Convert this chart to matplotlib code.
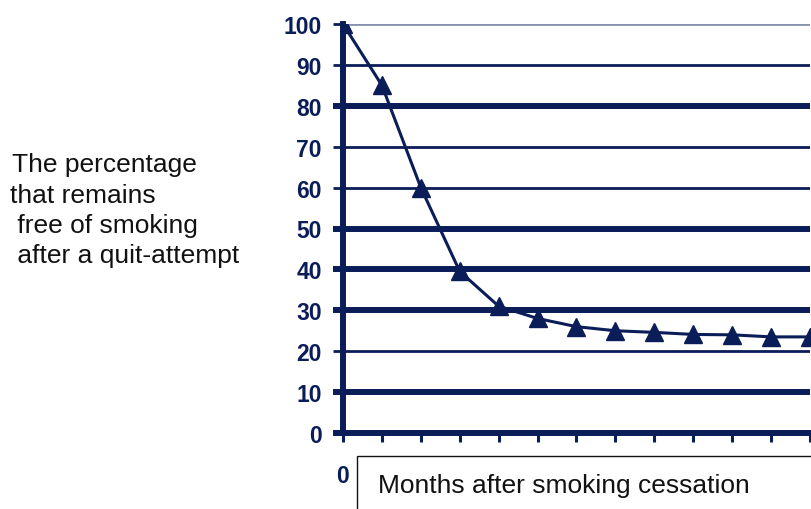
import matplotlib
matplotlib.use("Agg")
import matplotlib.pyplot as plt
from matplotlib.patches import Rectangle

# Share of quitters still abstinent, by month after cessation
months = [0, 1, 2, 3, 4, 5, 6, 7, 8, 9, 10, 11, 12]
abstinent_pct = [100, 85, 60, 39.5, 31, 28, 26, 25, 24.6, 24.1, 24, 23.5, 23.5]

y_ticks = [0, 10, 20, 30, 40, 50, 60, 70, 80, 90, 100]
y_tick_labels = ["0", "10", "20", "30", "40", "50", "60", "70", "80", "90", "100"]
x_tick_labels = ["0", "", "", "", "", "", "", "", "", "", "", "", ""]

ylabel_lines = ["The percentage", "that remains", " free of smoking", " after a quit-attempt"]
xlabel_text = "Months after smoking cessation"

NAVY = "#0b1d58"
PALE = "#8893ae"
W, H = 812, 510

# gridline weight per level (heavier rules alternate irregularly)
grid_width = {10: 4.3, 20: 2.0, 30: 4.3, 40: 4.3, 50: 4.3,
              60: 2.0, 70: 2.0, 80: 4.3, 90: 2.0, 100: 2.0}
grid_color = {k: (PALE if k == 100 else NAVY) for k in grid_width}

fig = plt.figure(figsize=(W / 100, H / 100), dpi=100)
fig.patch.set_facecolor("white")

ax = fig.add_axes([343 / W, (H - 434) / H, (810 - 343) / W, (434 - 25) / H])
ax.set_xlim(0, 12)
ax.set_ylim(0, 100)

for level, lw in grid_width.items():
    ax.axhline(level, color=grid_color[level], lw=lw, zorder=1, solid_capstyle="butt")

ax.plot(months, abstinent_pct, color=NAVY, lw=2.2, marker="^", markersize=13,
        markerfacecolor=NAVY, markeredgecolor=NAVY, zorder=3, clip_on=True)

for side in ("top", "right"):
    ax.spines[side].set_visible(False)
for side in ("left", "bottom"):
    ax.spines[side].set_color(NAVY)
    ax.spines[side].set_linewidth(4.3)
    ax.spines[side].set_zorder(2)

ax.set_yticks(y_ticks)
ax.set_yticklabels(y_tick_labels)
ax.set_xticks(months)
ax.set_xticklabels(x_tick_labels)

lab_font = dict(family="Liberation Sans", weight="bold", size=16.5)
for t in ax.get_yticklabels() + ax.get_xticklabels():
    t.set_fontfamily(lab_font["family"])
    t.set_fontweight(lab_font["weight"])
    t.set_fontsize(lab_font["size"])
    t.set_color(NAVY)

ax.tick_params(axis="y", direction="out", length=7.2, width=2.0, color=NAVY, pad=8)
ax.tick_params(axis="x", direction="out", length=6.5, width=2.2, color=NAVY, pad=16)

# heavier y tick marks where the gridline is heavy
for tick, level in zip(ax.yaxis.get_major_ticks(), y_ticks):
    w = grid_width.get(level, 4.3)
    tick.tick1line.set_markeredgewidth(w)
    if level == 100:
        tick.tick1line.set_color(PALE)

# axis title on the left, one line at a time
txt_font = dict(family="Liberation Sans", size=19, color="#111111")
line_x = [12, 10, 10, 10]
line_base = [172, 203, 233, 263]
for s, x, yb in zip(ylabel_lines, line_x, line_base):
    fig.text(x / W, (H - yb) / H, s, ha="left", va="baseline", **txt_font)

# boxed x-axis caption
fig.add_artist(Rectangle((357 / W, -0.05), (W + 20 - 357) / W, (H - 457) / H + 0.05,
                         transform=fig.transFigure, fill=False, edgecolor="#111111",
                         lw=1.0, clip_on=False))
fig.text(378 / W, (H - 493) / H, xlabel_text, ha="left", va="baseline", **txt_font)

fig.savefig("out.png", dpi=100, facecolor="white")
